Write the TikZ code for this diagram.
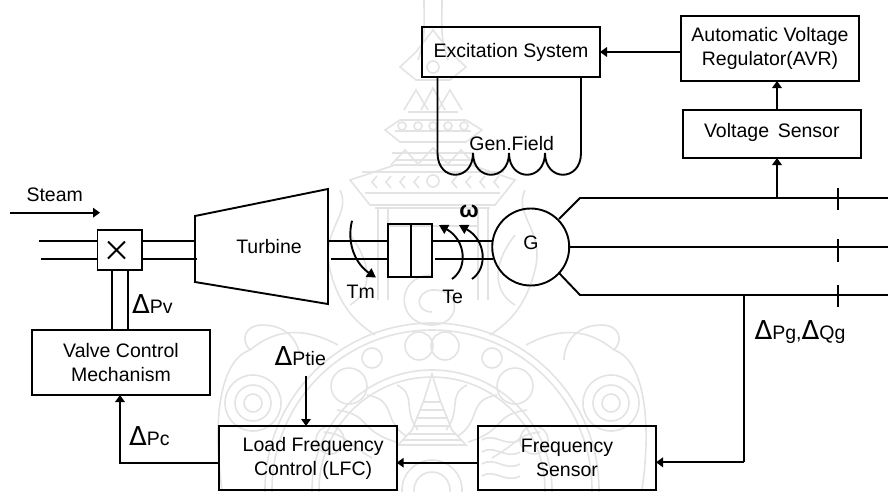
\documentclass[tikz,border=0pt]{standalone}
\usepackage{fontspec}
\setmainfont{Liberation Sans}
\newfontfamily\dvfont{DejaVu Sans}
\usetikzlibrary{arrows.meta}
\newcommand{\dlt}{{\dvfont\fontsize{26}{26}\selectfont Δ}}
\definecolor{wm}{gray}{0.89}
\tikzset{
  line/.style={line width=1.9pt,black},
  flow/.style={line, -{Triangle[length=7pt,width=9.5pt]}},
  box/.style={draw,line width=1.9pt,rectangle,inner sep=0pt,outer sep=0pt,align=center},
  lab/.style={inner sep=0pt,outer sep=0pt,align=center},
  dlab/.style={inner sep=0pt,outer sep=0pt,anchor=base west},
  mark line/.style={wm,line width=1.6pt},
  every node/.append style={font=\fontsize{19.5}{24}\selectfont}
}
\begin{document}
\begin{tikzpicture}[x=1pt,y=-1pt]
\useasboundingbox (0,0) rectangle (888,491);
% faint seal behind the diagram
\begin{scope}[mark line]
\clip (0,0) rectangle (888,491);
% rings
\draw (432,490) circle[radius=167];
\draw (432,490) circle[radius=160];
\draw (432,490) circle[radius=120];
\draw (432,490) circle[radius=113];
% lobes between rings
\foreach \cx/\cy/\r in {419/346/14,445/346/14,349/386/18,515/386/18,372/358/10,492/358/10,330/440/14,534/440/14}
  \draw (\cx,\cy) circle[radius=\r];
% side flowers
\foreach \cx in {253,611} {
  \draw (\cx,403) circle[radius=9];
  \draw (\cx,403) circle[radius=18];
  \draw (\cx,403) circle[radius=28];
}
% outer scrolls
\draw (222,490) .. controls (212,420) and (220,360) .. (250,350) .. controls (280,325) and (310,330) .. (338,345);
\draw (642,490) .. controls (652,420) and (644,360) .. (614,350) .. controls (584,325) and (554,330) .. (526,345);
\draw (250,350) .. controls (240,340) and (245,325) .. (262,325) .. controls (290,325) and (300,345) .. (300,360);
\draw (614,350) .. controls (624,340) and (619,325) .. (602,325) .. controls (574,325) and (564,345) .. (564,360);
% stupa
\draw (432,374) -- (424,400) -- (412,430) -- (398,445) -- (466,445) -- (452,430) -- (440,400) -- cycle;
\foreach \y/\w in {402/9,410/12,418/15,426/18,434/24,440/30}
  \draw (432-\w,\y) -- (432+\w,\y);
% rays
\foreach \s in {-1,1} {
  \draw (432+\s*14,430) .. controls (432+\s*30,410) and (432+\s*15,395) .. (432+\s*35,385);
  \draw (432+\s*26,436) .. controls (432+\s*50,420) and (432+\s*35,400) .. (432+\s*65,395);
  \draw (432+\s*36,442) .. controls (432+\s*75,430) and (432+\s*60,415) .. (432+\s*95,410);
  \draw (432+\s*60,458) .. controls (432+\s*90,440) and (432+\s*85,435) .. (432+\s*108,432);
}
% lower waves and inner medallion
\foreach \y in {440,452,464,476}
  \draw (482,\y) .. controls (495,\y-8) and (505,\y+8) .. (520,\y);
\draw (432,490) circle[radius=30];
\draw (432,490) circle[radius=18];
% spire and tiers of the crown
\draw (424,0) .. controls (424,30) and (426,35) .. (418,60);
\draw (442,0) .. controls (442,30) and (440,35) .. (448,60);
\draw (400,67) -- (416,52) -- (433,30) -- (450,52) -- (466,67) -- (450,80) -- (416,80) -- cycle;
\draw (433,67) circle[radius=6];
\foreach \a/\b/\c in {416/110/90,433/110/88,450/110/90}
  \draw (\a-12,\b) -- (\a,\c) -- (\a+12,\b);
\draw (408,112) -- (458,112) (405,120) -- (461,120);
\draw (385,130) -- (400,120) -- (466,120) -- (482,130) -- (466,142) -- (400,142) -- cycle;
\draw (395,131) -- (471,131);
\foreach \a in {402,418,433,448,464} \draw (\a,126) circle[radius=4];
\draw (395,160) -- (471,160) (392,153) -- (474,153);
\foreach \a/\b in {405/165,433/163,461/165} \draw (\a-14,\b) -- (\a,\b-15) -- (\a+14,\b);
% wide band of the crown
\draw (350,180) -- (395,165) -- (471,165) -- (515,180) -- (495,205) -- (370,205) -- cycle;
\draw (362,172) -- (504,172) (365,193) -- (500,193);
\foreach \a in {372,386,400,414,452,466,480,494} \draw (\a+5,176) -- (\a,182) -- (\a+5,188);
\draw (433,181) circle[radius=6];
\draw (375,208) -- (490,208);
% columns and side scrolls
\draw (378,208) -- (378,300) (388,208) -- (388,300);
\draw (478,208) -- (478,300) (488,208) -- (488,300);
\draw (388,226) -- (478,226);
\draw (340,190) .. controls (352,215) and (320,230) .. (330,270) .. controls (340,310) and (360,325) .. (375,335);
\draw (525,190) .. controls (513,215) and (545,230) .. (535,270) .. controls (525,310) and (505,325) .. (490,335);
\draw (350,235) .. controls (370,260) and (375,290) .. (350,305);
\draw (515,235) .. controls (495,260) and (490,290) .. (515,305);
% middle spiral
\draw (432,275) .. controls (395,275) and (395,325) .. (432,325) .. controls (462,325) and (462,288) .. (432,290) .. controls (415,292) and (415,312) .. (432,312);
\end{scope}
% boxes
\node[box,minimum width=178pt,minimum height=50pt] (exc) at (511,52) {Excitation System};
\node[box,minimum width=178pt,minimum height=65pt] (avr) at (770,48.5) {Automatic Voltage\\Regulator(AVR)};
\node[box,minimum width=178pt,minimum height=48pt] (vs) at (771.8,134) {\raisebox{7pt}{Voltage\, Sensor}};
\node[box,minimum width=44.5pt,minimum height=40pt] (valve) at (119.7,250) {};
\node[box,minimum width=178pt,minimum height=65pt] (vcm) at (121,362.5) {Valve Control\\Mechanism};
\node[box,minimum width=178pt,minimum height=64pt] (lfc) at (307.7,458) {\hspace{11pt}Load Frequency\\\hspace{11pt}Control (LFC)};
\node[box,minimum width=178pt,minimum height=64pt] (fs) at (567,458) {Frequency\\Sensor};
\node[box,minimum width=44pt,minimum height=53pt] (cpl) at (410,250.5) {};
\node[draw,line width=1.9pt,circle,minimum size=77pt,inner sep=0pt,outer sep=0pt] (gen) at (530.7,247) {};
\node[lab] (gtext) at (531,243) {G};
% turbine
\coordinate (ta) at (195,216);
\coordinate (tb) at (328,189);
\coordinate (tc) at (328,304);
\coordinate (td) at (195,282);
\draw[line,line join=miter] (ta) -- (tb) -- (tc) -- (td) -- cycle;
\node[lab] (turb) at (269,247) {Turbine};
% steam
\coordinate (s0) at (10,212.7);
\coordinate (s1) at (100,212.7);
\draw[flow] (s0) -- (s1);
\node[lab] (steam) at (54.7,195) {Steam};
% pipes
\coordinate (p1) at (39,241);
\coordinate (p2) at (41,258.7);
\draw[line] (p1) -- (p1 -| valve.west);
\draw[line] (p2) -- (p2 -| valve.west);
\draw[line] (valve.east |- p1) -- (ta |- p1);
\draw[line] (valve.east |- p2) -- (197,258.7);
\coordinate (p3) at (328,241);
\coordinate (p4) at (331,258.7);
\draw[line] (p3) -- (p3 -| cpl.west);
\draw[line] (p4) -- (p4 -| cpl.west);
\draw[line] (cpl.east |- p3) -- (gen.west |- p3);
\draw[line] (435,258.7) -- (493,258.7);
% valve cross and coupling divider
\coordinate (xa) at (108,241.5);
\coordinate (xb) at (125,258.5);
\draw[line] (xa) -- (xb) (xa |- xb) -- (xb |- xa);
\draw[line] ([xshift=0.7pt]cpl.north) -- ([xshift=0.7pt]cpl.south);
% valve stem
\coordinate (st1) at (111.7,270);
\coordinate (st2) at (128,270);
\draw[line] (st1) -- (st1 |- vcm.north);
\draw[line] (st2) -- (st2 |- vcm.north);
\node[dlab] (dpv) at (132,313) {\dlt Pv};
% lower feedback
\coordinate (c1) at (120,462.7);
\draw[flow] (lfc.west |- c1) -- (c1) -- (c1 |- vcm.south);
\draw[flow] (fs.west |- c1) -- (lfc.east |- c1);
\node[dlab] (dpc) at (129,445.7) {\dlt Pc};
\node[dlab] (dpt) at (274.5,365) {\dlt Ptie};
\coordinate (ptie) at (306,375.7);
\draw[flow] (ptie) -- (ptie |- lfc.north);
% output lines
\coordinate (o1a) at (559,219); \coordinate (o1b) at (580,198); \coordinate (o1c) at (888,198);
\coordinate (o2a) at (569,247); \coordinate (o2c) at (888,247);
\coordinate (o3a) at (559,273); \coordinate (o3b) at (580,295); \coordinate (o3c) at (888,295);
\draw[line] (o1a) -- (o1b) -- (o1c);
\draw[line] (o2a) -- (o2c);
\draw[line] (o3a) -- (o3b) -- (o3c);
\coordinate (t1a) at (837.7,188); \coordinate (t1b) at (837.7,210);
\coordinate (t2a) at (837.7,239); \coordinate (t2b) at (837.7,262);
\coordinate (t3a) at (837.7,285); \coordinate (t3b) at (837.7,307);
\draw[line] (t1a) -- (t1b) (t2a) -- (t2b) (t3a) -- (t3b);
% voltage loop
\coordinate (tapv) at (777,198);
\draw[flow] (tapv) -- (tapv |- vs.south);
\draw[flow] (tapv |- vs.north) -- (tapv |- avr.south);
\coordinate (avrl) at (avr.west |- 0,52);
\draw[flow] (avrl) -- (exc.east);
% frequency tap
\coordinate (tapf) at (744,295);
\coordinate (tapg) at (744,462.3);
\draw[line] (tapf) -- (tapg);
\draw[flow] (tapg) -- (tapg -| fs.east);
\node[dlab] (dpg) at (754.5,339.3) {\dlt Pg,\dlt Qg};
% field winding
\coordinate (f0) at (437.5,153); \coordinate (f1) at (473,153); \coordinate (f2) at (509,153);
\coordinate (f3) at (545,153); \coordinate (f4) at (581,153);
\draw[line] (f0 |- exc.south) -- (f0)
  .. controls (437.5,182) and (473,182) .. (f1)
  .. controls (473,182) and (509,182) .. (f2)
  .. controls (509,182) and (545,182) .. (f3)
  .. controls (545,182) and (581,182) .. (f4)
  -- (f4 |- exc.south);
\node[lab] (field) at (511.7,144) {Gen.Field};
% torque arrows
\coordinate (tm0) at (352,220.7); \coordinate (tm1) at (376,277.5);
\draw[line,-{Triangle[length=9pt,width=10pt]}] (tm0) .. controls (346,245) and (357,265) .. (tm1);
\node[lab] (tm) at (360.7,291.7) {Tm};
\coordinate (te0) at (452,279); \coordinate (te1) at (439,225);
\coordinate (te2) at (472,279); \coordinate (te3) at (459,225);
\draw[line,-{Triangle[length=9pt,width=10pt]}] (te0) .. controls (468,268) and (466,240) .. (te1);
\draw[line,-{Triangle[length=9pt,width=10pt]}] (te2) .. controls (488,268) and (486,240) .. (te3);
\node[lab] (te) at (452.7,296.7) {Te};
\node[lab,font=\fontsize{23}{23}\selectfont\bfseries] (om) at (469,211) {ω};
\end{tikzpicture}
\end{document}
